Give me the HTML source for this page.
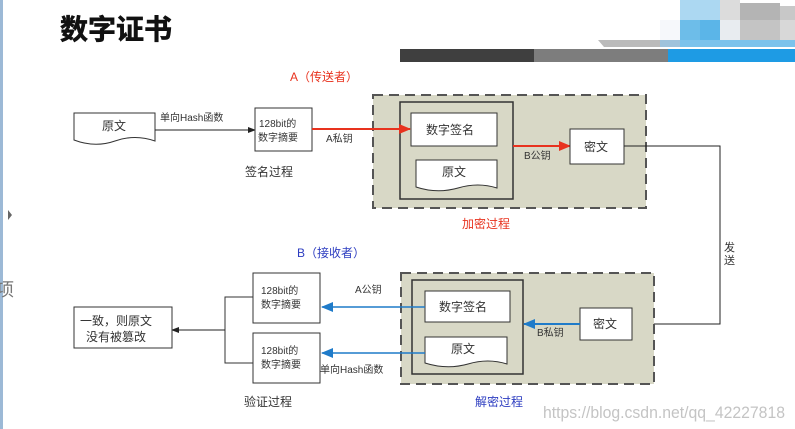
<!DOCTYPE html>
<html><head><meta charset="utf-8"><style>
body{margin:0;width:795px;height:429px;background:#fff;overflow:hidden;font-family:"Liberation Sans","Noto Sans CJK SC",sans-serif}
svg{position:absolute;left:0;top:0}
text{font-family:"Liberation Sans","Noto Sans CJK SC",sans-serif}
</style></head><body>
<svg width="795" height="429" viewBox="0 0 795 429">
<defs>
<marker id="ak" markerWidth="8" markerHeight="8" refX="7" refY="4" orient="auto" markerUnits="userSpaceOnUse"><path d="M0,1 L8,4 L0,7z" fill="#222"/></marker>
<marker id="ar" markerWidth="12" markerHeight="10" refX="11" refY="5" orient="auto" markerUnits="userSpaceOnUse"><path d="M0,0 L12,5 L0,10z" fill="#e8321e"/></marker>
<marker id="ab" markerWidth="12" markerHeight="10" refX="11" refY="5" orient="auto" markerUnits="userSpaceOnUse"><path d="M0,0 L12,5 L0,10z" fill="#1f7bc9"/></marker>
</defs>
<rect x="0" y="0" width="3" height="429" fill="#9cb9d6"/>
<path d="M8,210 L12,215 L8,220z" fill="#666"/>
<text x="-4" y="296" font-size="18" fill="#777">项</text>
<text x="60" y="39" font-size="28" font-weight="bold" fill="#111" stroke="#111" stroke-width="0.6">数字证书</text>
<rect x="680" y="0" width="40" height="20" fill="#acd8f2"/>
<rect x="720" y="0" width="20" height="20" fill="#dcdcdc"/>
<rect x="740" y="3" width="40" height="17" fill="#b4b4b4"/>
<rect x="780" y="6" width="15" height="14" fill="#c8c8c8"/>
<rect x="660" y="20" width="20" height="20" fill="#f6f8fb"/>
<rect x="680" y="20" width="20" height="20" fill="#6dbde9"/>
<rect x="700" y="20" width="20" height="20" fill="#5bb5e8"/>
<rect x="720" y="20" width="20" height="20" fill="#e8ecf0"/>
<rect x="740" y="20" width="40" height="20" fill="#c4c4c4"/>
<rect x="780" y="20" width="15" height="20" fill="#d8d8d8"/>
<path d="M598,40 L660,40 L660,47 L604,47z" fill="#bbb"/>
<rect x="660" y="40" width="20" height="7" fill="#9fc3dc"/>
<rect x="680" y="40" width="115" height="7" fill="#7cc3ec"/>
<rect x="400" y="49" width="134" height="13" fill="#3f3f3f"/>
<rect x="534" y="49" width="134" height="13" fill="#7d7d7d"/>
<rect x="668" y="49" width="127" height="13" fill="#1e9be4"/>

<g font-size="11" fill="#333">
<text x="290" y="81" fill="#e8321e" font-size="12">A（传送者）</text>
<path d="M74,113 H155 V141 Q135,134 115,141 Q95,148 74,140z" fill="#fff" stroke="#333"/>
<text x="102" y="130" font-size="12">原文</text>
<line x1="155" y1="130" x2="255" y2="130" stroke="#222" marker-end="url(#ak)"/>
<text x="160" y="121" font-size="10">单向Hash函数</text>
<rect x="255" y="108" width="57" height="43" fill="#fff" stroke="#333"/>
<text x="259" y="127" font-size="10">128bit的</text><text x="258" y="141" font-size="10">数字摘要</text>
<text x="326" y="142" font-size="10">A私钥</text>
<rect x="373" y="95" width="273" height="113" fill="#d8d8c6" stroke="#555" stroke-width="2" stroke-dasharray="10,6"/>
<rect x="400" y="102" width="113" height="97" fill="#d8d8c6" stroke="#333" stroke-width="1.5"/>
<rect x="411" y="113" width="86" height="33" fill="#fff" stroke="#333"/>
<text x="426" y="134" font-size="12">数字签名</text>
<line x1="312" y1="129" x2="410" y2="129" stroke="#e8321e" stroke-width="2" marker-end="url(#ar)"/>
<path d="M416,160 H497 V188 Q478,182 458,188 Q437,194 416,187z" fill="#fff" stroke="#333"/>
<text x="442" y="176" font-size="12">原文</text>
<line x1="513" y1="146" x2="570" y2="146" stroke="#e8321e" stroke-width="2" marker-end="url(#ar)"/>
<text x="524" y="159" font-size="10">B公钥</text>
<rect x="570" y="129" width="54" height="35" fill="#fff" stroke="#333"/>
<text x="584" y="151" font-size="12">密文</text>
<polyline points="624,146 720,146 720,324 632,324" fill="none" stroke="#222" marker-end="url(#ak)"/>
<text x="245" y="176" font-size="12">签名过程</text>
<text x="462" y="228" font-size="12" fill="#e8321e">加密过程</text>
<text x="724" y="251" font-size="11">发</text><text x="724" y="264" font-size="11">送</text>
<text x="297" y="257" font-size="12" fill="#2c3cc0">B（接收者）</text>
<rect x="401" y="273" width="253" height="111" fill="#d8d8c6" stroke="#555" stroke-width="2" stroke-dasharray="10,6"/>
<rect x="412" y="280" width="111" height="94" fill="#d8d8c6" stroke="#333" stroke-width="1.5"/>
<rect x="425" y="291" width="85" height="31" fill="#fff" stroke="#333"/>
<text x="439" y="311" font-size="12">数字签名</text>
<path d="M425,337 H507 V364 Q488,358 468,364 Q447,370 425,363z" fill="#fff" stroke="#333"/>
<text x="451" y="353" font-size="12">原文</text>
<rect x="580" y="308" width="52" height="32" fill="#fff" stroke="#333"/>
<text x="593" y="328" font-size="12">密文</text>
<line x1="580" y1="324" x2="524" y2="324" stroke="#1f7bc9" stroke-width="2" marker-end="url(#ab)"/>
<text x="537" y="336" font-size="10">B私钥</text>
<text x="355" y="293" font-size="10">A公钥</text>
<line x1="425" y1="307" x2="322" y2="307" stroke="#1f7bc9" stroke-width="1.5" marker-end="url(#ab)"/>
<line x1="425" y1="353" x2="322" y2="353" stroke="#1f7bc9" stroke-width="1.5" marker-end="url(#ab)"/>
<text x="320" y="373" font-size="10">单向Hash函数</text>
<rect x="253" y="273" width="67" height="50" fill="#fff" stroke="#333"/>
<text x="261" y="294" font-size="10">128bit的</text><text x="261" y="308" font-size="10">数字摘要</text>
<rect x="253" y="333" width="67" height="50" fill="#fff" stroke="#333"/>
<text x="261" y="354" font-size="10">128bit的</text><text x="261" y="368" font-size="10">数字摘要</text>
<polyline points="253,297 225,297 225,363 253,363" fill="none" stroke="#333"/>
<line x1="225" y1="330" x2="172" y2="330" stroke="#222" marker-end="url(#ak)"/>
<rect x="74" y="307" width="98" height="41" fill="#fff" stroke="#333"/>
<text x="80" y="325" font-size="12">一致，则原文</text><text x="86" y="341" font-size="12">没有被篡改</text>
<text x="244" y="406" font-size="12">验证过程</text>
<text x="475" y="406" font-size="12" fill="#2c3cc0">解密过程</text>
</g>
<text x="543" y="418" font-size="17" fill="#c4c4c4" textLength="242" lengthAdjust="spacingAndGlyphs">https://blog.csdn.net/qq_42227818</text>
</svg>
</body></html>
